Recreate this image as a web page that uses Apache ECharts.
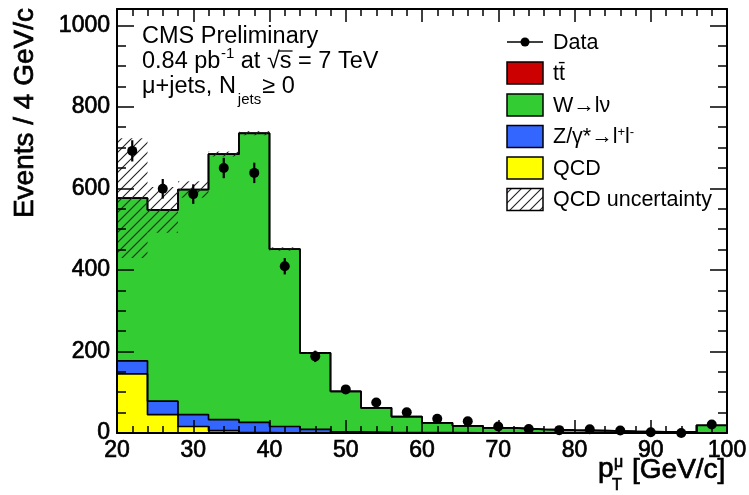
<!DOCTYPE html>
<html>
<head>
<meta charset="utf-8">
<script src="https://cdn.jsdelivr.net/npm/echarts@6/dist/echarts.min.js"></script>
<style>
  html, body { margin: 0; padding: 0; background: #fff; }
  #chart { width: 749px; height: 495px; }
</style>
</head>
<body>
<div id="chart"></div>
<script>
// Muon transverse momentum, 4 GeV/c bins from 20 to 100 GeV/c
const binEdges = [20, 24, 28, 32, 36, 40, 44, 48, 52, 56, 60, 64, 68, 72, 76, 80, 84, 88, 92, 96, 100];

// Simulated contributions per bin (events / 4 GeV/c)
const ttbar  = [0.2, 0.2, 0.3, 0.3, 0.3, 0.3, 0.3, 0.3, 0.2, 0.2, 0.2, 0.1, 0.1, 0.1, 0.1, 0.1, 0.1, 0.1, 0.1, 0.1];
const wToLNu = [399, 469, 552, 651, 709, 435, 187, 99, 60, 39, 24, 17, 12, 8.5, 6.6, 5.6, 3.7, 2.7, 2.8, 18.8];
const zToLL  = [32, 33, 29, 27, 25, 16, 9, 3, 1.5, 1, 0.8, 0.6, 0.5, 0.4, 0.3, 0.3, 0.2, 0.2, 0.1, 0.1];
const qcd    = [145, 45, 16, 6, 1, 0, 0, 0, 0, 0, 0, 0, 0, 0, 0, 0, 0, 0, 0, 0];

// Uncertainty on the QCD estimate, drawn as a band around the stack total
const qcdUncertainty = [147, 56, 20, 6, 5, 4, 1, 0, 0, 0, 0, 0, 0, 0, 0, 0, 0, 0, 0, 0];

// Observed events and their statistical errors
const dataCounts = [692, 599, 586, 650, 638, 409, 188, 107, 75, 51, 35, 29, 16, 10, 7, 9, 6, 2, 0, 21];
const dataErrors = [26, 24, 24, 25, 25, 20, 14, 10, 9, 7, 6, 5, 4, 3, 3, 3, 2, 1, 0, 5];

// Axis ranges
const xRange = [20, 100];
const yRange = [0, 1040];

const FONT = '"Liberation Sans", Arial, Helvetica, sans-serif';

// Diagonal hatch used for the uncertainty band
function makeHatch() {
  const c = document.createElement('canvas');
  c.width = 10; c.height = 10;
  const g = c.getContext('2d');
  g.strokeStyle = '#222';
  g.lineWidth = 1.1;
  g.beginPath();
  g.moveTo(-1, 11); g.lineTo(11, -1);
  g.moveTo(-6, 6); g.lineTo(6, -6);
  g.moveTo(4, 16); g.lineTo(16, 4);
  g.stroke();
  return { image: c, repeat: 'repeat' };
}
const hatch = makeHatch();

const measureCtx = document.createElement('canvas').getContext('2d');
function textWidth(str, size) {
  measureCtx.font = size + 'px ' + FONT;
  return measureCtx.measureText(str).width;
}

// Histogram bins as step points (value held across each bin)
function stepPoints(values) {
  const pts = values.map((v, i) => [binEdges[i], v]);
  pts.push([binEdges[binEdges.length - 1], values[values.length - 1]]);
  return pts;
}

// Stack order, bottom to top
const components = [
  { name: 'QCD', values: qcd, color: '#ffff00' },
  { name: 'Z/γ*→l+l-', values: zToLL, color: '#3366ff' },
  { name: 'W→lν', values: wToLNu, color: '#33cc33' },
  { name: 'tt̄', values: ttbar, color: '#cc0000' }
];

// Cumulative heights of the stack
let running = qcd.map(() => 0);
components.forEach(c => {
  running = running.map((r, i) => r + c.values[i]);
  c.cumulative = running.slice();
});
const stackTotal = running;

const series = [];
// Filled areas: draw the tallest level first so lower levels paint over it
components.slice().reverse().forEach(c => {
  series.push({
    type: 'line', name: c.name, step: 'end',
    data: stepPoints(c.cumulative), symbol: 'none',
    lineStyle: { width: 0 }, areaStyle: { color: c.color, opacity: 1, origin: 'start' },
    z: 2, silent: true
  });
});
components.forEach(c => {
  series.push({
    type: 'line', name: c.name + ' outline', step: 'end',
    data: stepPoints(c.cumulative), symbol: 'none',
    lineStyle: { color: '#000', width: 1.7 },
    z: 3, silent: true
  });
});

// QCD uncertainty band
series.push({
  type: 'custom', name: 'QCD uncertainty', z: 4, silent: true,
  encode: { x: [0, 1], y: [2, 3] },
  data: stackTotal.map((t, i) => [binEdges[i], binEdges[i + 1], t - qcdUncertainty[i], t + qcdUncertainty[i]])
    .filter((d, i) => qcdUncertainty[i] > 0),
  renderItem: (params, api) => {
    const p0 = api.coord([api.value(0), api.value(3)]);
    const p1 = api.coord([api.value(1), api.value(2)]);
    return {
      type: 'rect',
      shape: { x: p0[0], y: p0[1], width: p1[0] - p0[0], height: p1[1] - p0[1] },
      style: { fill: hatch, stroke: null }
    };
  }
});

const binCenters = binEdges.slice(0, -1).map((e, i) => (e + binEdges[i + 1]) / 2);

// Data error bars
series.push({
  type: 'custom', name: 'Data errors', z: 5, silent: true,
  encode: { x: 0, y: 1 },
  data: binCenters.map((x, i) => [x, dataCounts[i], dataErrors[i]]),
  renderItem: (params, api) => {
    const x = api.value(0), y = api.value(1), e = api.value(2);
    const a = api.coord([x, y - e]);
    const b = api.coord([x, y + e]);
    return { type: 'line', shape: { x1: a[0], y1: a[1], x2: b[0], y2: b[1] }, style: { stroke: '#000', lineWidth: 2.2 } };
  }
});

series.push({
  type: 'scatter', name: 'Data', z: 6, silent: true,
  symbol: 'circle', symbolSize: 10,
  itemStyle: { color: '#000', opacity: 1 },
  data: binCenters.map((x, i) => [x, dataCounts[i]])
});

const tickLine = { color: '#000', width: 1.5 };
const plainNumber = v => String(v);
// Slightly heavy strokes for the axis numbers and titles
const labelStyle = { color: '#000', fontSize: 23, fontFamily: FONT, textBorderColor: '#000', textBorderWidth: 0.7 };
const heavy = { stroke: '#000', lineWidth: 0.7 };
function xAxisDef(position, showLabel) {
  return {
    type: 'value', position, min: xRange[0], max: xRange[1], interval: 10, z: 10,
    axisLine: { show: true, onZero: false, lineStyle: { color: '#000', width: 2 } },
    axisTick: { show: true, inside: true, length: 13, lineStyle: tickLine },
    minorTick: { show: true, splitNumber: 5, length: 7, lineStyle: tickLine },
    axisLabel: Object.assign({ show: showLabel, margin: 6, showMinLabel: true, showMaxLabel: true, formatter: plainNumber }, labelStyle),
    splitLine: { show: false }, minorSplitLine: { show: false }
  };
}
function yAxisDef(position, interval, tickLen, showLabel, showLine) {
  return {
    type: 'value', position, min: yRange[0], max: yRange[1], interval, z: 10,
    axisLine: { show: showLine, onZero: false, lineStyle: { color: '#000', width: 2 } },
    axisTick: { show: true, inside: true, length: tickLen, lineStyle: tickLine },
    axisLabel: Object.assign({ show: showLabel, margin: 7, showMinLabel: true, showMaxLabel: false, formatter: plainNumber }, labelStyle),
    splitLine: { show: false }
  };
}

// Header text, second line with a superscript and an overlined √s
const hdrSize = 23.5, supSize = 15;
const hdrX = 142;
const l2a = '0.84 pb', l2sup = '-1', l2b = ' at √s = 7 TeV';
const supX = hdrX + textWidth(l2a, hdrSize) + 0.5;
const l2bX = supX + textWidth(l2sup, supSize);
const sStart = l2bX + textWidth(' at √', hdrSize);
const sEnd = sStart + textWidth('s', hdrSize);
const l3a = 'μ+jets, N', l3sub = 'jets', l3b = '≥ 0';
const subX = hdrX + textWidth(l3a, hdrSize) + 2;
const l3bX = subX + textWidth(l3sub, supSize) + 1;

function txt(x, y, text, size, extra) {
  return Object.assign({ type: 'text', x, y, silent: true, z: 20,
    style: Object.assign({ text, fill: '#000', fontSize: size, fontFamily: FONT, align: 'left', verticalAlign: 'middle' }, extra || {}) });
}

const legendX = 507, legendTextX = 553, legendSize = 21.5;
const legendRows = [
  { label: 'tt̄', y: 73, fill: '#cc0000' },
  { label: 'W→lν', y: 105, fill: '#33cc33' },
  { label: 'Z/γ*→l{sup|+}l{sup|-}', y: 136.5, fill: '#3366ff', rich: true },
  { label: 'QCD', y: 168, fill: '#ffff00' },
  { label: 'QCD uncertainty', y: 199.5, fill: hatch }
];

const yTitle = txt(25, 8, 'Events / 4 GeV/c', 28, Object.assign({ align: 'right' }, heavy));
yTitle.rotation = Math.PI / 2;

const graphic = [
  txt(hdrX, 37, 'CMS Preliminary', hdrSize),
  txt(hdrX, 62, l2a, hdrSize),
  txt(supX, 54, l2sup, supSize),
  txt(l2bX, 62, l2b, hdrSize),
  { type: 'line', silent: true, z: 20, shape: { x1: sStart - 1, y1: 51, x2: sEnd + 1, y2: 51 }, style: { stroke: '#000', lineWidth: 1.3 } },
  txt(hdrX, 87, l3a, hdrSize),
  txt(subX, 100, l3sub, supSize),
  txt(l3bX, 87, l3b, hdrSize),
  // axis titles
  yTitle,
  txt(598, 469, 'p', 28, heavy),
  txt(614, 463, 'μ', 16, heavy),
  txt(612, 486, 'T', 16, heavy),
  txt(632, 470, '[GeV/c]', 28, heavy),
  // legend: data marker
  { type: 'line', silent: true, z: 20, shape: { x1: legendX, y1: 42, x2: legendX + 36, y2: 42 }, style: { stroke: '#000', lineWidth: 1.5 } },
  { type: 'circle', silent: true, z: 21, shape: { cx: legendX + 18, cy: 42, r: 4.5 }, style: { fill: '#000' } },
  txt(legendTextX, 43, 'Data', legendSize)
];

legendRows.forEach(r => {
  graphic.push({ type: 'rect', silent: true, z: 20, shape: { x: legendX, y: r.y - 11, width: 36, height: 22 },
    style: { fill: r.fill, stroke: '#000', lineWidth: 1.5 } });
  const extra = r.rich ? { rich: { sup: { fontSize: 13, lineHeight: 10, verticalAlign: 'top', fontFamily: FONT, fill: '#000' } }, lineHeight: 24 } : {};
  graphic.push(txt(legendTextX, r.y + 1, r.label, legendSize, extra));
});

const chart = echarts.init(document.getElementById('chart'), null, { renderer: 'canvas' });
chart.setOption({
  animation: false,
  backgroundColor: '#fff',
  grid: { left: 117, right: 22, top: 9, bottom: 62, containLabel: false, outerBoundsMode: 'none' },
  xAxis: [xAxisDef('bottom', true), xAxisDef('top', false)],
  yAxis: [
    yAxisDef('left', 200, 17, true, true),
    yAxisDef('left', 50, 9, false, false),
    yAxisDef('right', 200, 17, false, true),
    yAxisDef('right', 50, 9, false, false)
  ],
  series,
  graphic
});
</script>
</body>
</html>
